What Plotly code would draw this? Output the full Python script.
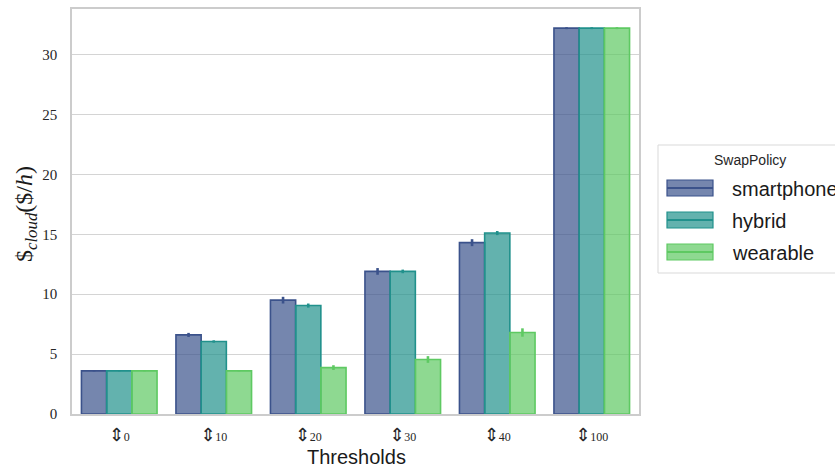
import plotly.graph_objects as go

# Thresholds on the x axis and mean cloud cost per policy, with error half-widths
thresholds = ["0", "10", "20", "30", "40", "100"]
policies = ["smartphone", "hybrid", "wearable"]
smartphone = [3.6, 6.6, 9.5, 11.9, 14.3, 32.2]
hybrid = [3.6, 6.05, 9.05, 11.9, 15.1, 32.2]
wearable = [3.6, 3.6, 3.87, 4.55, 6.8, 32.2]
smartphone_err = [0.05, 0.17, 0.28, 0.28, 0.29, 0.08]
hybrid_err = [0.04, 0.1, 0.17, 0.15, 0.17, 0.08]
wearable_err = [0.04, 0.05, 0.2, 0.28, 0.35, 0.08]

edge = {"smartphone": (59, 82, 139), "hybrid": (33, 145, 140), "wearable": (94, 201, 98)}
values = {"smartphone": smartphone, "hybrid": hybrid, "wearable": wearable}
errors = {"smartphone": smartphone_err, "hybrid": hybrid_err, "wearable": wearable_err}

tick_text = [
    "<span style='font-family:DejaVu Sans;font-size:18px'>⇕</span>"
    f"<span style='font-family:Liberation Serif;font-size:12px'>{t}</span>"
    for t in thresholds
]

W, H = 835, 468
L, R, T, B = 72, 639, 9, 414


def px(x):
    return (x - L) / (R - L)


def py(y):
    return (B - y) / (B - T)


fig = go.Figure()
for p in policies:
    r, g, b = edge[p]
    solid = f"rgb({r},{g},{b})"
    fig.add_trace(go.Bar(
        x=thresholds, y=values[p], name=p, showlegend=False,
        marker=dict(color=f"rgba({r},{g},{b},0.7)", line=dict(color=solid, width=1.6)),
        error_y=dict(type="data", array=errors[p], color=solid, thickness=2.6, width=0),
    ))

# legend drawn as a framed box with wide swatches
shapes = [dict(type="rect", xref="paper", yref="paper",
               x0=px(658), x1=px(900), y0=py(273), y1=py(145),
               line=dict(color="#d9d9d9", width=1), fillcolor="white", layer="above")]
annotations = [
    dict(text="SwapPolicy", xref="paper", yref="paper", x=px(750), y=py(160),
         showarrow=False, xanchor="center", yanchor="middle",
         font=dict(family="Liberation Sans", size=14, color="#262626")),
    dict(text="Thresholds", xref="paper", yref="paper", x=px(356), y=py(457),
         showarrow=False, xanchor="center", yanchor="middle",
         font=dict(family="Liberation Sans", size=20, color="#1a1a1a")),
    dict(text="$<sub><i>cloud</i></sub>($/<i>h</i>)", xref="paper", yref="paper",
         x=px(26), y=py(214), showarrow=False, textangle=-90,
         xanchor="center", yanchor="middle",
         font=dict(family="Liberation Serif", size=24, color="#1a1a1a")),
]
for i, p in enumerate(policies):
    r, g, b = edge[p]
    yc = 188 + i * 32
    shapes.append(dict(type="rect", xref="paper", yref="paper",
                       x0=px(667), x1=px(713), y0=py(yc + 8), y1=py(yc - 8),
                       fillcolor=f"rgba({r},{g},{b},0.7)",
                       line=dict(color=f"rgb({r},{g},{b})", width=1.2), layer="above"))
    shapes.append(dict(type="line", xref="paper", yref="paper",
                       x0=px(667), x1=px(713), y0=py(yc), y1=py(yc),
                       line=dict(color=f"rgb({r},{g},{b})", width=2), layer="above"))
    annotations.append(dict(text=p, xref="paper", yref="paper", x=px(730), y=py(yc + 1),
                            showarrow=False, xanchor="left", yanchor="middle",
                            font=dict(family="Liberation Sans", size=20, color="#1a1a1a")))

fig.update_layout(
    width=W, height=H,
    margin=dict(l=L, r=W - R, t=T, b=H - B, autoexpand=False),
    paper_bgcolor="white", plot_bgcolor="white",
    barmode="group", bargap=0.2, bargroupgap=0,
    shapes=shapes, annotations=annotations,
    xaxis=dict(
        tickmode="array", tickvals=thresholds, ticktext=tick_text,
        tickfont=dict(family="Liberation Serif", size=14, color="#262626"),
        showline=True, linecolor="#cccccc", linewidth=1.5, mirror=True,
        showgrid=False, ticks="", ticklabelstandoff=8, automargin=False,
    ),
    yaxis=dict(
        range=[0, 33.8], tickvals=[0, 5, 10, 15, 20, 25, 30],
        tickfont=dict(family="Liberation Serif", size=15, color="#262626"),
        showline=True, linecolor="#cccccc", linewidth=1.5, mirror=True,
        showgrid=True, gridcolor="#d4d4d4", gridwidth=1, zeroline=False,
        ticks="", ticklabelstandoff=10, automargin=False,
    ),
)

fig.write_html("out.html")
